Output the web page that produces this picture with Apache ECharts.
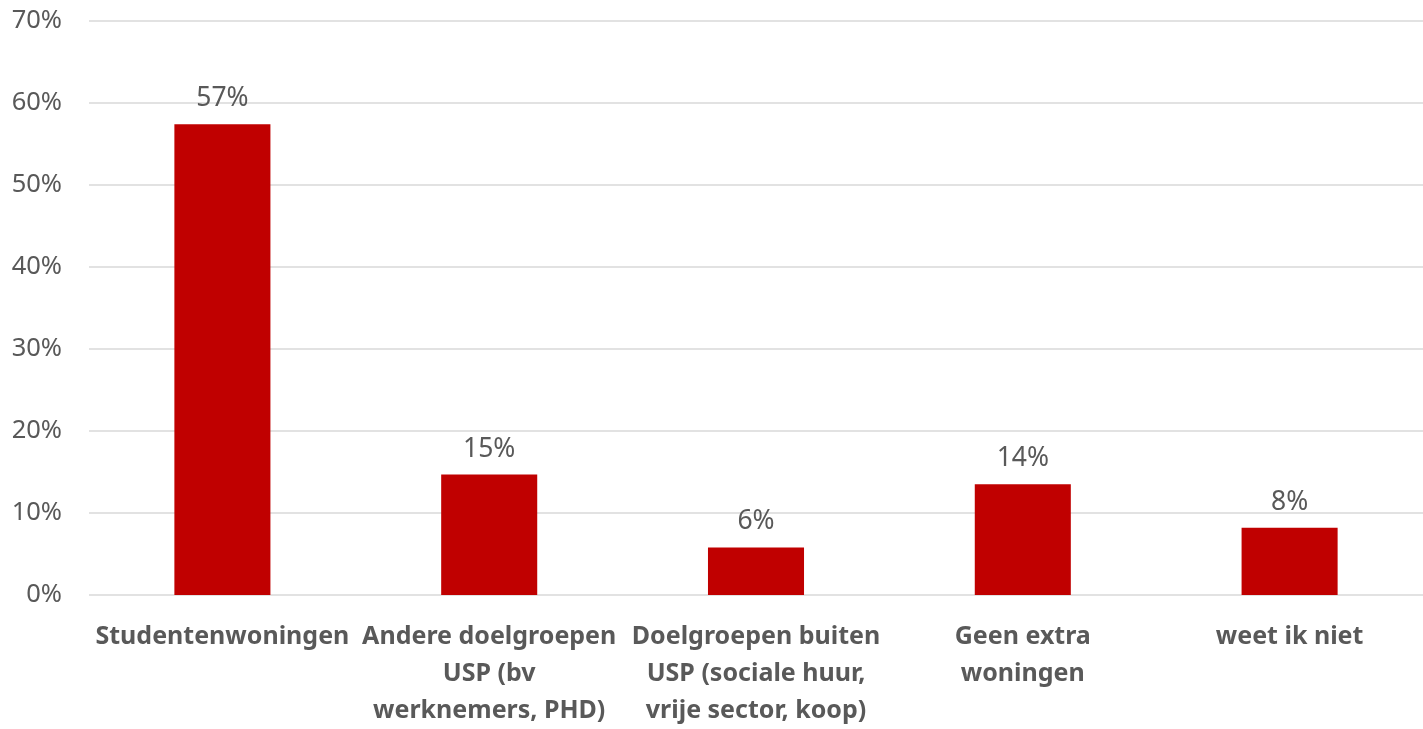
<!DOCTYPE html>
<html>
<head>
<meta charset="utf-8">
<script src="https://cdn.jsdelivr.net/npm/echarts@6/dist/echarts.min.js"></script>
<style>
    html, body { margin: 0; padding: 0; background: #fff; overflow: hidden; }
    #chart { width: 1423px; height: 729px; }
</style>
</head>
<body>
<div id="chart"></div>
<script>
// categorieen (regelafbreking zoals in het origineel)
var categories = [
    'Studentenwoningen',
    'Andere doelgroepen\nUSP (bv\nwerknemers, PHD)',
    'Doelgroepen buiten\nUSP (sociale huur,\nvrije sector, koop)',
    'Geen extra\nwoningen',
    'weet ik niet'
];
// percentages
var values = [57.4, 14.7, 5.8, 13.5, 8.2];
var yTicks = [0, 10, 20, 30, 40, 50, 60, 70];

var textColor = '#595959';
var myChart = echarts.init(document.getElementById('chart'));
myChart.setOption({
    animation: false,
    grid: {
        left: 89,
        right: 0,
        top: 21,
        bottom: 128,
        containLabel: false
    },
    xAxis: {
        type: 'category',
        data: categories,
        axisLine: {show: false},
        axisTick: {show: false},
        axisLabel: {
            interval: 0,
            margin: 23,
            color: textColor,
            fontFamily: 'Noto Sans',
            fontWeight: 'bold',
            fontSize: 25,
            lineHeight: 37
        }
    },
    yAxis: {
        type: 'value',
        min: yTicks[0],
        max: yTicks[yTicks.length - 1],
        interval: 10,
        axisLine: {show: false},
        axisTick: {show: false},
        splitLine: {lineStyle: {color: '#d9d9d9', width: 1.5}},
        axisLabel: {
            margin: 27,
            color: textColor,
            fontFamily: 'Noto Sans',
            fontSize: 25.5,
            formatter: function (v) {
                return v + '%';
            }
        }
    },
    series: [
        {
            type: 'bar',
            data: values,
            barWidth: '36%',
            itemStyle: {color: '#c00000'},
            label: {
                show: true,
                position: 'top',
                distance: 12,
                color: textColor,
                fontFamily: 'Noto Sans',
                fontSize: 26.5,
                formatter: function (p) {
                    return Math.round(p.value) + '%';
                }
            }
        }
    ]
});
</script>
</body>
</html>
